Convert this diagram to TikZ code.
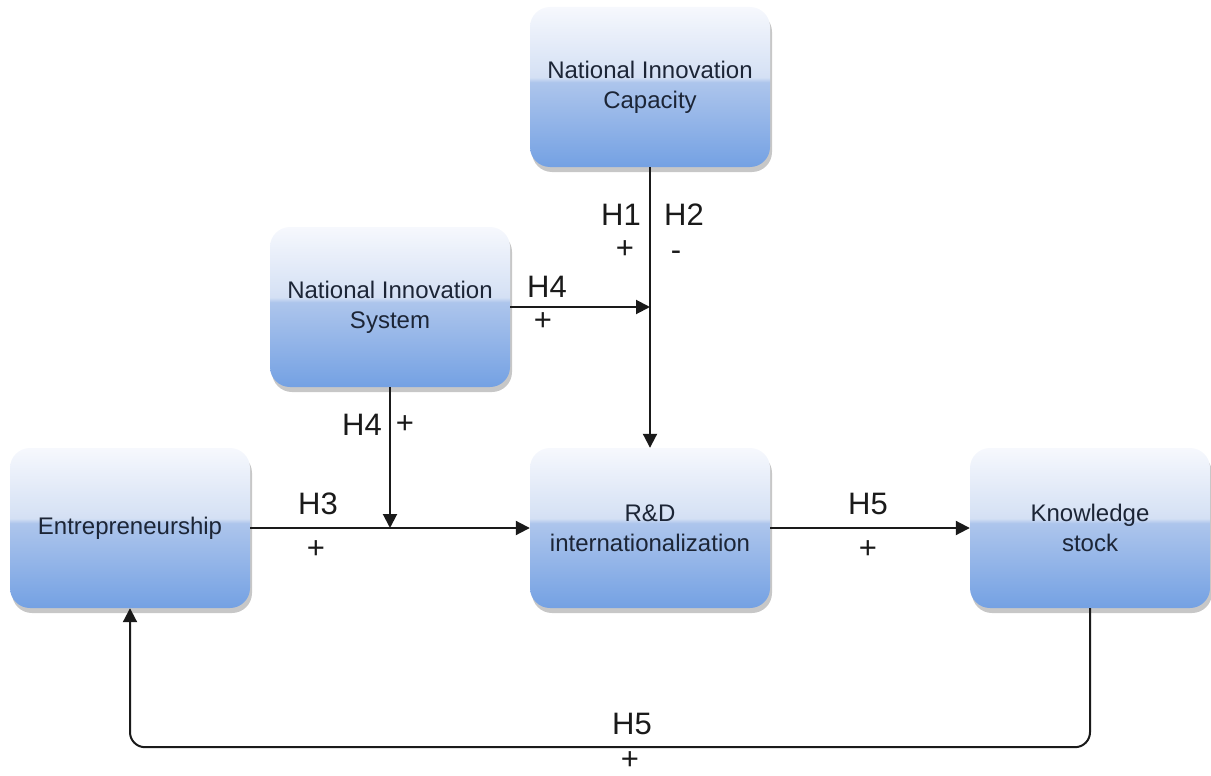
\documentclass[tikz,border=0pt]{standalone}
\usepackage{fontspec}
\setmainfont{Liberation Sans}
\usetikzlibrary{arrows.meta,shadows}

% glossy blue fill of the concept boxes
\definecolor{gtop}{HTML}{F6F8FD}
\definecolor{gmidhi}{HTML}{D4E0F4}
\definecolor{gmidlo}{HTML}{ADC5EC}
\definecolor{gbot}{HTML}{74A1E3}
\definecolor{boxtext}{HTML}{1C2536}
\definecolor{ink}{HTML}{1A1A1A}
\pgfdeclareverticalshading{glossy}{100bp}{color(0bp)=(gbot); color(25bp)=(gbot); color(51.5bp)=(gmidlo); color(53bp)=(gmidhi); color(75bp)=(gtop); color(100bp)=(gtop)}

\tikzset{
  box/.style={rectangle, rounded corners=20pt, minimum width=240pt, minimum height=160pt,
    inner sep=0pt, shading=glossy, align=center, text=boxtext,
    font=\fontsize{24}{30}\selectfont,
    drop shadow={shadow xshift=2pt, shadow yshift=-5pt, fill=black, opacity=0.22}},
  conn/.style={line width=2pt, draw=ink, -{Triangle[length=14pt,width=14pt]}},
  lbl/.style={font=\fontsize{31}{31}\selectfont, text=ink, inner sep=0pt}
}

\begin{document}
\begin{tikzpicture}[x=1pt, y=-1pt]
\useasboundingbox (0,0) rectangle (1211,776);

% concept boxes
\node[box] (nic) at (650,87)  {National Innovation\\Capacity};
\node[box] (nis) at (390,307) {National Innovation\\System};
\node[box] (ent) at (130,528) {Entrepreneurship};
\node[box] (rd)  at (650,528) {R\&D\\internationalization};
\node[box] (ks)  at (1090,528) {Knowledge\\stock};

% junctions where the moderating arrows meet the main paths
\coordinate (j1) at (nic.south |- nis.east);
\coordinate (j2) at (nis.south |- ent.east);

% connectors
\draw[conn] (nic.south) -- (rd.north);
\draw[conn] (nis.east) -- (j1);
\draw[conn] (nis.south) -- (j2);
\draw[conn] (ent.east) -- (rd.west);
\draw[conn] (rd.east) -- (ks.west);
\draw[conn, rounded corners=15pt] (ks.south) -- ++(0,139) -| (ent.south);

% hypothesis labels
\node[lbl] (h1)  at (621,215) {H1};
\node[lbl] (h2)  at (684,215) {H2};
\node[lbl] (h1s) at (625,250) {+};
\node[lbl] (h2s) at (676,256) {-};
\node[lbl] (h4a) at (547,287) {H4};
\node[lbl] (h4as) at (543,322) {+};
\node[lbl] (h4b) at (362,425) {H4};
\node[lbl] (h4bs) at (405,425) {+};
\node[lbl] (h3)  at (318,504) {H3};
\node[lbl] (h3s) at (316,550) {+};
\node[lbl] (h5a) at (868,504) {H5};
\node[lbl] (h5as) at (868,550) {+};
\node[lbl] (h5b) at (632,724) {H5};
\node[lbl] (h5bs) at (630,761) {+};
\end{tikzpicture}
\end{document}
